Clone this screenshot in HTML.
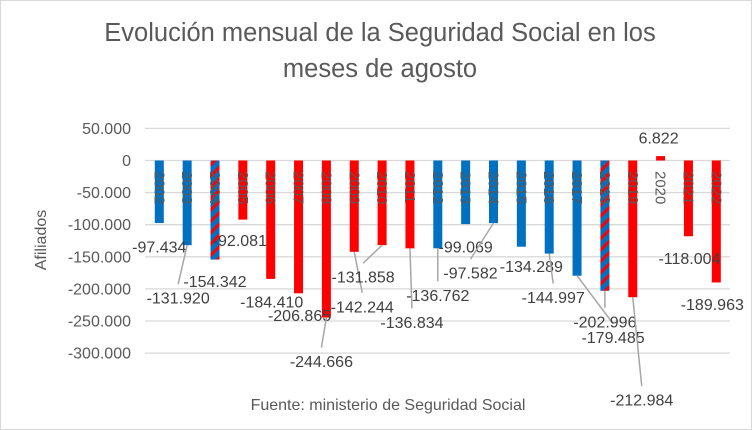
<!DOCTYPE html>
<html><head><meta charset="utf-8">
<style>
html,body{margin:0;padding:0;background:#fff;}
svg{display:block;font-family:"Liberation Sans",sans-serif;}
</style></head>
<body>
<svg id="chart" width="752" height="430" viewBox="0 0 752 430">
<defs>
<pattern id="hatch" patternUnits="userSpaceOnUse" width="8" height="8" patternTransform="rotate(45)">
<rect width="8" height="8" fill="#0070C0"/>
<rect width="3" height="8" fill="#FF0000"/>
</pattern>
</defs>
<rect x="0.5" y="0.5" width="751" height="429" fill="#fff" stroke="#d9d9d9"/>
<text x="380" y="41" text-anchor="middle" font-size="25.5" fill="#595959">Evolución mensual de la Seguridad Social en los</text>
<text x="380" y="77" text-anchor="middle" font-size="25.5" fill="#595959">meses de agosto</text>
<text transform="translate(46,240) rotate(-90)" text-anchor="middle" font-size="16" fill="#595959">Afiliados</text>
<text x="388" y="410" text-anchor="middle" font-size="16" fill="#595959">Fuente: ministerio de Seguridad Social</text>
<g id="grid"></g><g id="bars"></g><g id="labels"></g>
</svg>
<script>
const years = ["2002","2003","2004","2005","2006","2007","2008","2009","2010","2011","2012","2013","2014","2015","2016","2017","2018","2019","2020","2021","2022"];
const values = [-97434,-131920,-154342,-92081,-184410,-206865,-244666,-142244,-131858,-136834,-136762,-99069,-97582,-134289,-144997,-179485,-202996,-212984,6822,-118004,-189963];
const valueLabels = ["-97.434","-131.920","-154.342","-92.081","-184.410","-206.865","-244.666","-142.244","-131.858","-136.834","-136.762","-99.069","-97.582","-134.289","-144.997","-179.485","-202.996","-212.984","6.822","-118.004","-189.963"];
const colorGroup = ["b","b","h","r","r","r","r","r","r","r","b","b","b","b","b","b","h","r","r","r","r"];
const yTicks = [50000,0,-50000,-100000,-150000,-200000,-250000,-300000];
const yTickLabels = ["50.000","0","-50.000","-100.000","-150.000","-200.000","-250.000","-300.000"];
// label placement offsets (dx, dy from bar center/end) and whether a leader line is drawn
const labelOffsets = [[0,24],[-9,53],[0,22],[-3,21],[1,23],[1,22],[-5,44],[8,55],[-19,32],[2,74],[0,47],[0,23],[-23,50],[10,20],[4,44],[36,62],[0,31],[9,103],[-2,-18],[1,22],[-4,22]];
const hasLeader = [0,1,0,0,0,0,1,1,1,1,1,0,1,0,1,1,1,1,0,0,0];

const NS="http://www.w3.org/2000/svg";
const x0=159.3, step=27.85, barW=9;
const yZero=160.5, pxPer=32.1/50000;
function xPos(i){return x0+i*step;}
function yPos(v){return yZero - v*pxPer;}
function mk(tag,attrs,parent){const e=document.createElementNS(NS,tag);for(const k in attrs)e.setAttribute(k,attrs[k]);parent.appendChild(e);return e;}
const grid=document.getElementById('grid'),bars=document.getElementById('bars'),labels=document.getElementById('labels');
yTicks.forEach((t,i)=>{
  const y=yPos(t);
  const l=mk('line',{x1:145,x2:730,y1:y,y2:y,stroke:'#d9d9d9','stroke-width':1.3},grid);
  
  
  const tx=mk('text',{x:131,y:y+5.5,'text-anchor':'end','font-size':16,fill:'#595959'},grid);
  tx.textContent=yTickLabels[i];
  
  
});
values.forEach((v,i)=>{
  const cx=xPos(i), y=yPos(v);
  const fill=colorGroup[i]==='b'?'#0070C0':colorGroup[i]==='r'?'#FF0000':'url(#hatch)';
  const r=mk('rect',{x:cx-barW/2,y:Math.min(y,yZero),width:barW,height:Math.abs(y-yZero),fill:fill},bars);
  
  
  const yl=mk('text',{transform:`translate(${cx-5},171) rotate(90)`,'font-size':15,fill:'#595959'},bars);
  yl.textContent=years[i];
  
  
  const off=labelOffsets[i];
  const lx=cx+off[0], ly=y+off[1];
  if(hasLeader[i]){
    const ln=mk('line',{x1:cx,y1:y,x2:lx,y2:ly-14,stroke:'#a6a6a6','stroke-width':1.5},labels);
    
    
  }
  const t=mk('text',{x:lx,y:ly+5.5,'text-anchor':'middle','font-size':16,fill:'#404040'},labels);
  t.textContent=valueLabels[i];
  
  
});
</script>
</body></html>
